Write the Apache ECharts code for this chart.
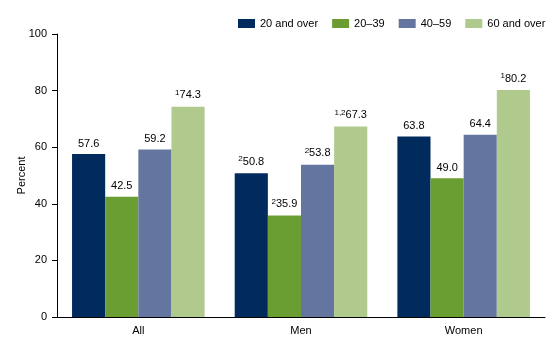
<!DOCTYPE html>
<html><head><meta charset="utf-8">
<script src="https://cdn.jsdelivr.net/npm/echarts@6/dist/echarts.min.js"></script>
<style>html,body{margin:0;padding:0;background:#fff}#c{width:560px;height:350px}</style>
</head><body><div id="c"></div>
<script>
const categories = ['All', 'Men', 'Women'];
const seriesNames = ['20 and over', '20\u201339', '40\u201359', '60 and over'];
const values20plus = [57.6, 50.8, 63.8];
const values20to39 = [42.5, 35.9, 49.0];
const values40to59 = [59.2, 53.8, 64.4];
const values60plus = [74.3, 67.3, 80.2];
const notes20plus = ['', '2', ''];
const notes20to39 = ['', '2', ''];
const notes40to59 = ['', '2', ''];
const notes60plus = ['1', '1,2', '1'];
const yTicks = [0, 20, 40, 60, 80, 100];
const colors = ['#002B5C', '#6B9E32', '#64769F', '#AFCA8C'];

const allValues = [values20plus, values20to39, values40to59, values60plus];
const allNotes = [notes20plus, notes20to39, notes40to59, notes60plus];

const chart = echarts.init(document.getElementById('c'), null, {renderer: 'canvas'});
const font = 'Liberation Sans, Arial, sans-serif';
chart.setOption({
  animation: false,
  textStyle: {fontFamily: font},
  legend: {
    top: 13, left: 233, width: 325,
    itemWidth: 17, itemHeight: 9, itemGap: 14,
    icon: 'rect',
    textStyle: {fontSize: 11, color: '#000', fontFamily: font},
    data: seriesNames
  },
  grid: {left: 57, right: 15, top: 34, bottom: 33, containLabel: false},
  xAxis: {
    type: 'category', data: categories,
    axisLine: {lineStyle: {color: '#000', width: 1}},
    axisTick: {show: false},
    axisLabel: {color: '#000', fontSize: 11, margin: 8, fontFamily: font}
  },
  yAxis: {
    type: 'value', min: yTicks[0], max: yTicks[yTicks.length-1], interval: 20,
    name: 'Percent', nameLocation: 'middle', nameGap: 30, nameRotate: 90,
    nameMoveOverlap: false,
    nameTextStyle: {color: '#000', fontSize: 11, fontFamily: font},
    axisLine: {show: true, lineStyle: {color: '#000', width: 1}},
    axisTick: {show: true, length: 5, lineStyle: {color: '#000'}},
    axisLabel: {color: '#000', fontSize: 11, margin: 10, fontFamily: font},
    splitLine: {show: false}
  },
  series: seriesNames.map((name, i) => ({
    name, type: 'bar',
    barGap: '0%', barCategoryGap: '18.5%',
    itemStyle: {color: colors[i]},
    data: allValues[i],
    label: {
      show: true, position: 'top', distance: 5,
      formatter: p => {
        const n = allNotes[i][p.dataIndex];
        const v = p.value.toFixed(1);
        return n ? '{sup|' + n + '}{v|' + v + '}' : '{v|' + v + '}';
      },
      rich: {
        v: {fontSize: 11, color: '#000', fontFamily: font},
        sup: {fontSize: 8, color: '#000', fontFamily: font, verticalAlign: 'top', padding: [0,0,5,0]}
      }
    }
  }))
});
</script></body></html>
